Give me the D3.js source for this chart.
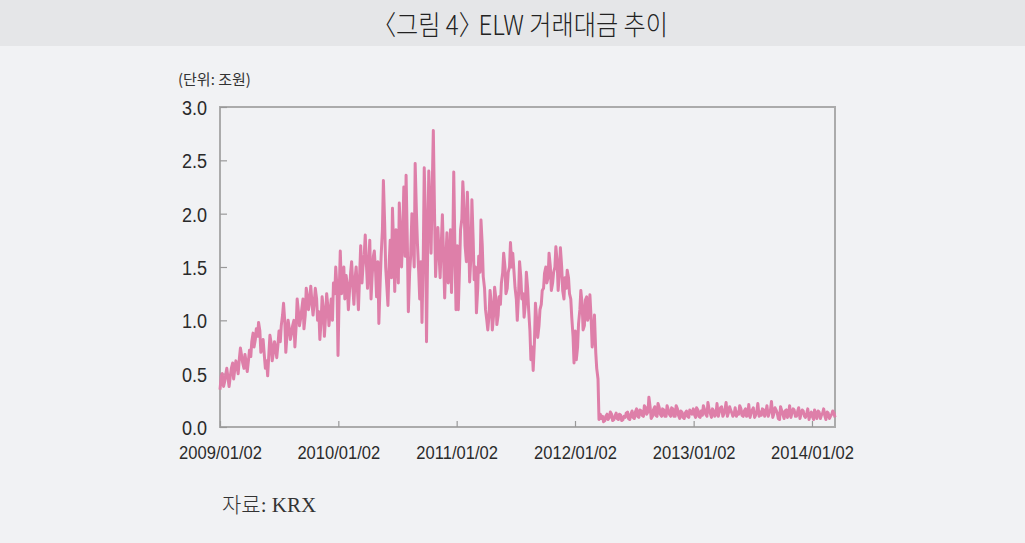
<!DOCTYPE html>
<html>
<head>
<meta charset="utf-8">
<script src="https://cdn.jsdelivr.net/npm/d3@7"></script>
<style>
  body { margin: 0; background: #f1f2f4; }
  .title-band { fill: #e5e6e8; }
  .num { font-family: "Liberation Sans", Arial, sans-serif; fill: #2a2a2a; }
</style>
</head>
<body>
<div id="elw-plot"></div>
<script>
// ELW trading value (trillion won), read off the chart twice a week:
// one array for the Friday readings and one for the Tuesday readings of each year
const fri2009 = [0.35, 0.5, 0.42, 0.55, 0.38, 0.55, 0.45, 0.62, 0.5, 0.74,
  0.6, 0.68, 0.52, 0.72, 0.8, 0.75, 0.92, 0.98, 0.7, 0.82,
  0.55, 0.48, 0.86, 0.62, 0.8, 0.65, 0.9, 0.95, 1.16, 0.7,
  1.0, 0.82, 0.95, 0.75, 1.2, 0.95, 1.1, 0.92, 1.3, 1.1,
  1.32, 1.05, 1.3, 1.0, 0.82, 1.22, 0.85, 1.25, 0.95, 1.2,
  1.35, 1.5];
const tue2009 = [0.48, 0.38, 0.5, 0.45, 0.48, 0.6, 0.55, 0.56, 0.65, 0.66,
  0.55, 0.6, 0.63, 0.66, 0.88, 0.82, 0.85, 0.9, 0.76, 0.66,
  0.62, 0.7, 0.78, 0.7, 0.74, 0.78, 0.8, 1.05, 0.98, 0.88,
  0.92, 0.88, 1.0, 0.95, 1.08, 1.02, 1.2, 1.05, 1.22, 1.2,
  1.15, 1.18, 1.2, 1.08, 1.0, 1.1, 1.05, 1.12, 1.08, 1.0,
  1.25, 1.3];
const fri2010 = [0.67, 1.65, 1.4, 1.2, 1.35, 1.25, 1.55, 1.15, 1.5, 1.1,
  1.7, 1.5, 1.8, 1.3, 1.75, 1.4, 1.65, 1.22, 0.97, 1.6,
  2.31, 1.5, 1.14, 1.75, 2.05, 1.27, 1.6, 2.1, 1.5, 2.25,
  2.36, 1.08, 1.6, 1.78, 2.47, 1.72, 1.2, 0.98, 2.43, 0.8,
  2.4, 1.63, 2.78, 1.41, 1.87, 1.4, 1.99, 1.21, 1.82, 1.5,
  1.26, 2.39, 1.1];
const tue2010 = [1.3, 1.25, 1.5, 1.42, 1.1, 1.45, 1.3, 1.4, 1.28, 1.45,
  1.35, 1.62, 1.5, 1.55, 1.2, 1.6, 1.45, 1.55, 1.35, 1.85,
  1.9, 1.3, 1.55, 1.4, 1.65, 1.85, 1.35, 1.8, 1.85, 1.6,
  1.7, 1.45, 2.0, 1.5, 2.0, 1.45, 1.55, 1.6, 1.9, 1.75,
  2.0, 2.3, 1.95, 1.7, 1.6, 1.75, 1.55, 1.6, 1.35, 1.85,
  1.7, 1.6];
const fri2011 = [1.1, 1.85, 2.3, 1.7, 2.2, 1.36, 2.13, 1.38, 1.07, 1.6,
  1.94, 1.41, 1.1, 0.91, 1.28, 0.91, 1.31, 0.96, 1.22, 1.35,
  1.63, 1.25, 1.45, 1.73, 1.63, 1.31, 1.0, 1.55, 1.2, 1.03,
  1.45, 1.1, 0.63, 0.53, 1.16, 0.84, 1.1, 1.28, 1.44, 1.35,
  1.63, 1.28, 1.45, 1.69, 1.28, 1.68, 1.28, 1.4, 1.47, 1.25,
  1.03, 0.6];
const tue2011 = [1.7, 1.5, 1.95, 2.05, 1.55, 1.8, 1.6, 1.75, 1.5, 1.3,
  1.45, 1.7, 1.3, 1.0, 1.05, 1.15, 1.05, 1.2, 1.05, 1.15,
  1.45, 1.5, 1.3, 1.5, 1.5, 1.45, 1.2, 1.25, 1.4, 1.25,
  1.15, 1.3, 0.9, 0.75, 0.8, 1.0, 0.95, 1.15, 1.3, 1.5,
  1.4, 1.5, 1.35, 1.5, 1.55, 1.45, 1.5, 1.2, 1.3, 1.4,
  1.2, 0.85];
const fri2012 = [0.63, 0.97, 1.28, 0.91, 1.19, 1.0, 1.24, 0.75, 1.05, 0.55,
  0.07, 0.08, 0.05, 0.1, 0.07, 0.14, 0.06, 0.1, 0.08, 0.12,
  0.06, 0.1, 0.13, 0.08, 0.12, 0.09, 0.14, 0.1, 0.16, 0.11,
  0.2, 0.12, 0.28, 0.08, 0.16, 0.11, 0.22, 0.12, 0.17, 0.1,
  0.2, 0.12, 0.18, 0.1, 0.2, 0.11, 0.15, 0.09, 0.13, 0.1,
  0.16, 0.12];
const tue2012 = [0.9, 0.75, 1.1, 1.15, 0.95, 1.22, 1.05, 1.0, 0.85, 0.7,
  0.45, 0.12, 0.1, 0.06, 0.12, 0.09, 0.12, 0.07, 0.13, 0.07,
  0.11, 0.07, 0.09, 0.14, 0.07, 0.15, 0.08, 0.17, 0.09, 0.15,
  0.1, 0.18, 0.14, 0.18, 0.1, 0.19, 0.1, 0.18, 0.1, 0.16,
  0.1, 0.16, 0.1, 0.17, 0.1, 0.17, 0.08, 0.14, 0.08, 0.15,
  0.09, 0.14];
const fri2013 = [0.12, 0.18, 0.1, 0.15, 0.2, 0.12, 0.23, 0.13, 0.17, 0.1,
  0.22, 0.14, 0.19, 0.12, 0.23, 0.13, 0.16, 0.1, 0.18, 0.14,
  0.2, 0.11, 0.15, 0.1, 0.21, 0.13, 0.18, 0.11, 0.22, 0.14,
  0.17, 0.1, 0.2, 0.13, 0.24, 0.12, 0.16, 0.08, 0.19, 0.12,
  0.15, 0.09, 0.2, 0.13, 0.16, 0.1, 0.18, 0.12, 0.15, 0.09,
  0.17, 0.11];
const tue2013 = [0.17, 0.09, 0.16, 0.09, 0.11, 0.16, 0.1, 0.16, 0.09, 0.15,
  0.12, 0.1, 0.18, 0.1, 0.17, 0.1, 0.19, 0.13, 0.12, 0.1,
  0.12, 0.17, 0.1, 0.17, 0.11, 0.09, 0.16, 0.09, 0.15, 0.1,
  0.11, 0.16, 0.14, 0.1, 0.16, 0.09, 0.18, 0.13, 0.07, 0.15,
  0.08, 0.16, 0.12, 0.09, 0.17, 0.1, 0.15, 0.08, 0.16, 0.1,
  0.13, 0.07, 0.14];
const fri2014 = [0.1, 0.16, 0.08, 0.14, 0.11, 0.17, 0.07, 0.13, 0.1, 0.15, 0.09];
const tue2014 = [0.07, 0.12, 0.15, 0.08, 0.13, 0.1, 0.14, 0.08, 0.12, 0.13];

const years = [2009, 2010, 2011, 2012, 2013, 2014];
const friValues = [fri2009, fri2010, fri2011, fri2012, fri2013, fri2014];
const tueValues = [tue2009, tue2010, tue2011, tue2012, tue2013, tue2014];
const lastDay = new Date(2014, 2, 15);

const xTickDates = ["2009/01/02", "2010/01/02", "2011/01/02", "2012/01/02", "2013/01/02", "2014/01/02"];
const yTicks = [0, 0.5, 1.0, 1.5, 2.0, 2.5, 3.0];

const titleHead = "〈그림 4〉";
const titleTail = " ELW 거래대금 추이";
const unitText = "(단위: 조원)";
const sourceText = "자료: KRX";

// build the table: each reading goes on its weekday of that year
var data = [];
function addReadings(interval, yr, vals) {
  var end = yr === 2014 ? lastDay : new Date(yr + 1, 0, 1);
  var days = interval.range(new Date(yr, 0, 1), end);
  vals.forEach(function(v, j) {
    if (days[j]) data.push({date: days[j], value: v});
  });
}
years.forEach(function(yr, i) {
  addReadings(d3.timeFriday, yr, friValues[i]);
  addReadings(d3.timeTuesday, yr, tueValues[i]);
});
data.sort(function(a, b) { return a.date - b.date; });

// set the dimensions and margins of the graph
const W = 1025, H = 543;
const margin = {top: 107, right: 190, bottom: 116, left: 220},
  width = W - margin.left - margin.right,
  height = H - margin.top - margin.bottom;

var root = d3.select("#elw-plot")
  .append("svg")
  .attr("width", W)
  .attr("height", H);

// title band
root.append("rect")
  .attr("class", "title-band")
  .attr("x", 0).attr("y", 0)
  .attr("width", W).attr("height", 46);

// the title font is a narrow gothic, so squeeze Noto into the same box
var title = root.append("text")
  .attr("y", 35)
  .style("font-family", "'Noto Sans CJK KR', sans-serif")
  .style("font-weight", 300)
  .style("font-size", "27px")
  .style("fill", "#222");
title.append("tspan").text(titleHead);
title.append("tspan").attr("dx", -11).text(titleTail);
var tb = title.node().getBBox();
var ts = 296 / tb.width;
title.attr("transform", "translate(" + (372 - tb.x * ts) + ",0) scale(" + ts + ",1)");

root.append("text")
  .attr("x", 178)
  .attr("y", 85)
  .style("font-family", "'Noto Sans CJK KR', sans-serif")
  .style("font-size", "15px")
  .style("fill", "#333")
  .text(unitText);

root.append("text")
  .attr("x", 222)
  .attr("y", 512)
  .style("font-family", "'Liberation Serif', 'Noto Sans CJK KR', serif")
  .style("font-weight", 300)
  .style("font-size", "21px")
  .style("fill", "#333")
  .text(sourceText);

var svg = root.append("g")
  .attr("transform", "translate(" + margin.left + "," + margin.top + ")");

var parseTick = d3.timeParse("%Y/%m/%d");

var x = d3.scaleTime()
  .domain([data[0].date, data[data.length - 1].date])
  .range([0, width]);

var y = d3.scaleLinear()
  .domain([0, 3])
  .range([height, 0]);

// frame
svg.append("rect")
  .attr("x", 0).attr("y", 0)
  .attr("width", width).attr("height", height)
  .style("fill", "none")
  .style("stroke", "#ababab")
  .style("stroke-width", 2);

// y axis: short ticks pointing inwards, narrow labels on the left
var yAxis = svg.append("g")
  .call(d3.axisRight(y).tickValues(yTicks).tickSize(7).tickFormat(d3.format(".1f")));
yAxis.select(".domain").remove();
yAxis.selectAll(".tick line").style("stroke", "#999").style("stroke-width", 1.2);
yAxis.selectAll(".tick text")
  .attr("class", "num")
  .attr("x", 0)
  .attr("dy", "0.36em")
  .attr("transform", "translate(-13,0) scale(0.86,1)")
  .attr("text-anchor", "end")
  .style("font-size", "21px");

// x axis: ticks pointing up
var xAxis = svg.append("g")
  .attr("transform", "translate(0," + height + ")")
  .call(d3.axisTop(x)
    .tickValues(xTickDates.map(parseTick))
    .tickSize(6)
    .tickFormat(d3.timeFormat("%Y/%m/%d")));
xAxis.select(".domain").remove();
xAxis.selectAll(".tick line").style("stroke", "#999").style("stroke-width", 1.2);
xAxis.selectAll(".tick text")
  .attr("class", "num")
  .attr("y", 0)
  .attr("dy", 0)
  .attr("transform", "translate(0,31.5) scale(0.92,1)")
  .style("font-size", "18px");

// Draw the line
svg.append("path")
  .datum(data)
  .attr("d", d3.line()
    .x(function(d) { return x(d.date); })
    .y(function(d) { return y(d.value); }))
  .style("fill", "none")
  .style("stroke", "#de7fa9")
  .style("stroke-width", 3)
  .style("stroke-linejoin", "round");
</script>
</body>
</html>
